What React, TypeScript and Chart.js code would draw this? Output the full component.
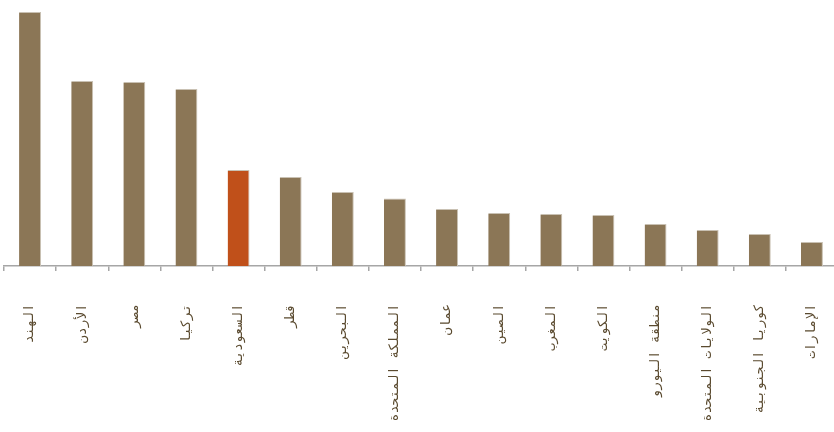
import React, { useEffect, useRef } from "react";
import { Chart, registerables } from "chart.js";

Chart.register(...registerables);

const categories: string[] = [
  "الهند",
  "الأردن",
  "مصر",
  "تركيا",
  "السعودية",
  "قطر",
  "البحرين",
  "المملكة المتحدة",
  "عمان",
  "الصين",
  "المغرب",
  "الكويت",
  "منطقة اليورو",
  "الولايات المتحدة",
  "كوريا الجنوبية",
  "الإمارات",
];

const values: number[] = [25.4, 18.5, 18.4, 17.7, 9.6, 8.9, 7.4, 6.75, 5.7, 5.3, 5.2, 5.1, 4.2, 3.6, 3.2, 2.4];

const highlight = "السعودية";
const baseColor = "#8b7656";
const highlightColor = "#c0501a";

export default function App() {
  const canvasRef = useRef<HTMLCanvasElement | null>(null);

  useEffect(() => {
    if (!canvasRef.current) return;
    const chart = new Chart(canvasRef.current, {
      type: "bar",
      data: {
        labels: categories,
        datasets: [
          {
            data: values,
            backgroundColor: categories.map((c) => (c === highlight ? highlightColor : baseColor)),
            borderColor: "#c9c1b3",
            borderWidth: { right: 1, top: 1, left: 0, bottom: 0 },
            borderSkipped: "bottom",
            barPercentage: 0.42,
            categoryPercentage: 1,
          },
        ],
      },
      options: {
        animation: false,
        responsive: false,
        maintainAspectRatio: false,
        layout: { padding: { left: 4, right: 4, top: 6, bottom: 0 } },
        plugins: { legend: { display: false }, tooltip: { enabled: false } },
        scales: {
          x: {
            afterFit: (scale: any) => {
              scale.height = 166;
              scale.paddingLeft = 0;
              scale.paddingRight = 0;
            },
            border: { display: true, color: "#a6a6a6", width: 1.5 },
            grid: {
              offset: true,
              drawOnChartArea: false,
              drawTicks: true,
              tickLength: 5,
              color: "#a6a6a6",
              lineWidth: 1.5,
            },
            ticks: {
              minRotation: 90,
              maxRotation: 90,
              autoSkip: false,
              padding: 33,
              color: "#5a4a2f",
              font: { family: "'DejaVu Sans Mono', 'DejaVu Sans'", size: 13 },
            },
          },
          y: {
            display: false,
            min: 0,
            max: 26,
          },
        },
      },
    });
    return () => chart.destroy();
  }, []);

  return (
    <div style={{ position: "absolute", left: 0, top: 0, width: 834, height: 432, overflow: "hidden", background: "#fff" }}>
      <canvas ref={canvasRef} width={842} height={432} style={{ display: "block", width: 842, height: 432 }} />
    </div>
  );
}
